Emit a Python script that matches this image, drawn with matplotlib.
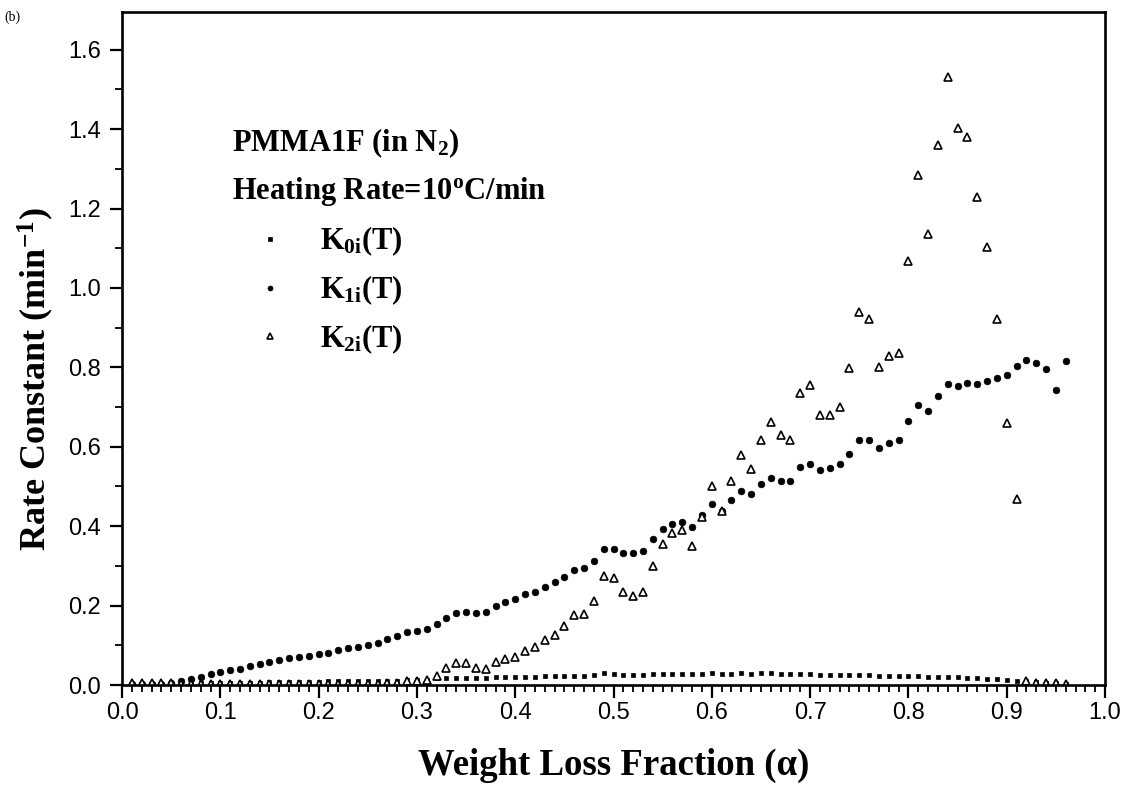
#!/usr/bin/env python
# -*- coding: utf-8 -*-
"""
Rate constants K0i, K1i, K2i vs weight loss fraction (PMMA1F in N2, 10 C/min).
"""
import numpy as np
import matplotlib
matplotlib.use("Agg")
import matplotlib.pyplot as plt
from matplotlib import font_manager

# ---------------------------------------------------------------------
# Datos
# ---------------------------------------------------------------------
alpha = np.linspace(0.01, 0.96, 96)

k0i = [0.001, 0.001, 0.001, 0.002, 0.002, 0.003, 0.003, 0.004, 0.004, 0.005,
       0.005, 0.006, 0.006, 0.006, 0.007, 0.007, 0.007, 0.008, 0.008, 0.008,
       0.009, 0.009, 0.009, 0.010, 0.010, 0.010, 0.011, 0.011, 0.012, 0.012,
       0.013, 0.018, 0.018, 0.018, 0.018, 0.018, 0.018, 0.019, 0.019, 0.019,
       0.020, 0.020, 0.022, 0.022, 0.022, 0.023, 0.023, 0.026, 0.029, 0.028,
       0.025, 0.025, 0.025, 0.027, 0.028, 0.028, 0.028, 0.027, 0.028, 0.030,
       0.028, 0.028, 0.030, 0.028, 0.029, 0.029, 0.028, 0.028, 0.027, 0.027,
       0.026, 0.026, 0.025, 0.025, 0.025, 0.024, 0.023, 0.023, 0.023, 0.022,
       0.022, 0.021, 0.021, 0.020, 0.019, 0.018, 0.017, 0.016, 0.014, 0.013,
       0.011, 0.010, 0.008, 0.006, 0.004, 0.003]

k1i = [0.002, 0.002, 0.002, 0.003, 0.004, 0.009, 0.016, 0.021, 0.028, 0.033,
       0.037, 0.041, 0.047, 0.054, 0.057, 0.063, 0.069, 0.070, 0.073, 0.077,
       0.081, 0.089, 0.093, 0.096, 0.102, 0.106, 0.115, 0.124, 0.133, 0.137,
       0.142, 0.154, 0.170, 0.182, 0.183, 0.181, 0.185, 0.199, 0.208, 0.216,
       0.228, 0.234, 0.248, 0.259, 0.273, 0.290, 0.295, 0.313, 0.342, 0.343,
       0.332, 0.332, 0.338, 0.368, 0.392, 0.406, 0.411, 0.399, 0.427, 0.457,
       0.439, 0.467, 0.489, 0.480, 0.506, 0.521, 0.515, 0.515, 0.548, 0.556,
       0.541, 0.546, 0.556, 0.582, 0.616, 0.616, 0.597, 0.610, 0.617, 0.665,
       0.705, 0.689, 0.729, 0.759, 0.753, 0.761, 0.759, 0.765, 0.773, 0.781,
       0.804, 0.819, 0.810, 0.797, 0.743, 0.816]

k2i = [0.004, 0.004, 0.004, 0.004, 0.004, 0.003, 0.003, 0.003, 0.003, 0.003,
       0.003, 0.003, 0.003, 0.003, 0.003, 0.003, 0.003, 0.003, 0.003, 0.003,
       0.003, 0.003, 0.003, 0.003, 0.003, 0.003, 0.004, 0.006, 0.009, 0.011,
       0.013, 0.023, 0.042, 0.056, 0.055, 0.044, 0.040, 0.057, 0.065, 0.071,
       0.086, 0.095, 0.113, 0.126, 0.149, 0.176, 0.179, 0.212, 0.275, 0.269,
       0.233, 0.225, 0.233, 0.300, 0.354, 0.384, 0.390, 0.350, 0.424, 0.501,
       0.439, 0.515, 0.579, 0.543, 0.617, 0.662, 0.630, 0.618, 0.735, 0.756,
       0.681, 0.680, 0.701, 0.798, 0.940, 0.921, 0.801, 0.828, 0.835, 1.067,
       1.284, 1.137, 1.359, 1.532, 1.402, 1.380, 1.229, 1.102, 0.922, 0.661,
       0.469, 0.010, 0.006, 0.005, 0.004, 0.003]

x_ticks = [0.0, 0.1, 0.2, 0.3, 0.4, 0.5, 0.6, 0.7, 0.8, 0.9, 1.0]
y_ticks = [0.0, 0.2, 0.4, 0.6, 0.8, 1.0, 1.2, 1.4, 1.6]

labels = [r"K$_{0i}$(T)", r"K$_{1i}$(T)", r"K$_{2i}$(T)"]

# ---------------------------------------------------------------------
# Estilo
# ---------------------------------------------------------------------
installed = {f.name for f in font_manager.fontManager.ttflist}
if "Liberation Sans Narrow" in installed:
    tick_family, tick_size = "Liberation Sans Narrow", 19
else:
    tick_family, tick_size = "Liberation Sans", 17

plt.rcParams["font.family"] = [tick_family, "DejaVu Sans"]
plt.rcParams["mathtext.fontset"] = "custom"
plt.rcParams["mathtext.rm"] = "Liberation Serif:bold"
plt.rcParams["mathtext.it"] = "Liberation Serif:bold"
plt.rcParams["mathtext.bf"] = "Liberation Serif:bold"

serif_bold = dict(family="Liberation Serif", weight="bold")

fig = plt.figure(figsize=(11.28, 7.98), dpi=100)
ax = fig.add_axes([0.1082, 0.1416, 0.8714, 0.8434])

ax.plot(alpha, k0i, ls="none", marker="s", ms=3.4, mfc="black", mec="black",
        mew=0.5, label=labels[0])
ax.plot(alpha, k1i, ls="none", marker="o", ms=4.8, mfc="black", mec="black",
        mew=0.5, label=labels[1])
ax.plot(alpha, k2i, ls="none", marker="^", ms=5.2, mfc="white", mec="black",
        mew=1.2, label=labels[2])

ax.set_xlim(0.0, 1.0)
ax.set_ylim(0.0, 1.695)
ax.set_xticks(x_ticks)
ax.set_xticklabels([f"{v:.1f}" for v in x_ticks])
ax.set_xticks(np.linspace(0.0, 1.0, 101), minor=True)
ax.set_yticks(y_ticks)
ax.set_yticklabels([f"{v:.1f}" for v in y_ticks])
ax.set_yticks(np.linspace(0.0, 1.6, 17), minor=True)

ax.tick_params(axis="both", which="major", direction="out", length=9,
               width=1.6, labelsize=tick_size, colors="black")
ax.tick_params(axis="both", which="minor", direction="out", length=5,
               width=1.3)
ax.tick_params(axis="x", which="major", pad=3)
ax.tick_params(axis="y", which="major", pad=6)
ax.tick_params(top=False, right=False, which="both")

for sp in ax.spines.values():
    sp.set_linewidth(1.9)
    sp.set_color("black")

ax.set_xlabel("Weight Loss Fraction (α)", fontsize=26.5, va="center", **serif_bold)
ax.xaxis.set_label_coords(0.5, -0.119)
ax.set_ylabel(r"Rate Constant (min$^{-1}$)", fontsize=26, va="center", **serif_bold)
ax.yaxis.set_label_coords(-0.088, 0.455)

ax.text(0.112, 0.805, r"PMMA1F (in N$_2$)", transform=ax.transAxes,
        fontsize=22, va="center", ha="left", **serif_bold)
ax.text(0.112, 0.733, r"Heating Rate=10$^{\rm o}$C/min", transform=ax.transAxes,
        fontsize=22, va="center", ha="left", **serif_bold)

leg = ax.legend(loc="upper left", bbox_to_anchor=(0.136, 0.684), frameon=False,
                prop=dict(family="Liberation Serif", weight="bold", size=22),
                numpoints=1, markerscale=0.75, handlelength=0.95,
                handletextpad=1.15, labelspacing=0.5, borderpad=0.0,
                borderaxespad=0.0)

fig.text(0.004, 0.978, "(b)", fontsize=10, family="Liberation Serif",
         va="center", ha="left")

fig.savefig("out.png", dpi=100)
plt.close(fig)
##fin
